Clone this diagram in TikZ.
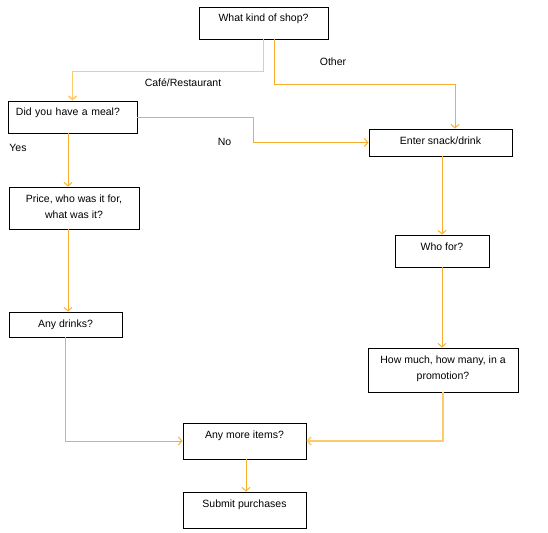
\documentclass[tikz,border=0pt]{standalone}
\usepackage{fontspec}
\setmainfont{Liberation Sans}
\usetikzlibrary{arrows.meta,positioning,calc}
\definecolor{flowor}{HTML}{F7AE2E}
\definecolor{flowlt}{HTML}{FDCB6E}
\newcommand\diagfont{\fontsize{10.5}{16}\selectfont}

\begin{document}
\begin{tikzpicture}[x=1pt,y=-1pt,
    box/.style={draw=black,line width=0.9pt,inner xsep=4pt,inner ysep=5pt,text height=10pt,text depth=#1,align=center,font=\diagfont},
    twoline/.style={text height=26pt},
    lbl/.style={font=\diagfont,inner sep=0pt},
    arr/.style={-{Straight Barb[length=3.5pt,width=8pt]},flowor,line width=1pt},
    arrlt/.style={-{Straight Barb[length=3.5pt,width=8pt]},flowlt,line width=1.6pt}
]
\useasboundingbox (0,0) rectangle (548,532);

\node[box=12pt,minimum width=129pt] (shop) at (263.5,23) {What kind of shop?};
\node[box=12pt,align=left,text width=113pt,inner xsep=8pt] (meal) at (72.5,117) {Did you have a meal?};
\node[box=7pt,minimum width=143pt] (snack) at (440.5,142.5) {Enter snack/drink};
\node[box=6pt,twoline,minimum width=130pt] (price) at (74,208) {Price, who was it for,\\what was it?};
\node[box=12pt,minimum width=94pt] (who) at (442,251) {Who for?};
\node[box=5pt,minimum width=113pt] (drinks) at (65.5,324.5) {Any drinks?};
\node[box=8pt,twoline,minimum width=150pt] (howmuch) at (443,370) {How much, how many, in a\\promotion?};
\node[box=16pt,minimum width=123pt] (more) at (244.5,441) {Any more items?};
\node[box=16pt,minimum width=123pt] (submit) at (244.5,510) {Submit purchases};

\node[lbl] (lcafe) at (183,83) {Café/Restaurant};
\node[lbl] (lother) at (333,62) {Other};
\node[lbl] (lno) at (224.5,142) {No};
\node[lbl] (lyes) at (18,148) {Yes};

\draw[arrlt] (shop.south) -- ++(0,32) -| (meal.north);
\draw[arr] ([xshift=10.5pt]shop.south) -- ++(0,45) -| ([xshift=14.5pt]snack.north);
\draw[arr] (meal.east) -- ++(116,0) |- (snack.west);
\draw[arr] ([xshift=-4.5pt]meal.south) -- ([xshift=-4.5pt]meal.south |- price.north);
\draw[arr] ([xshift=-6pt]price.south) -- ([xshift=-6pt]price.south |- drinks.north);
\draw[arr] (who.north |- snack.south) -- (who.north);
\draw[arr] (who.south) -- (who.south |- howmuch.north);
\draw[arr] (drinks.south) |- (more.west);
\draw[arrlt] (howmuch.south) |- (more.east);
\draw[arr] ([xshift=1.5pt]more.south) -- ([xshift=1.5pt]submit.north);
\end{tikzpicture}
\end{document}
